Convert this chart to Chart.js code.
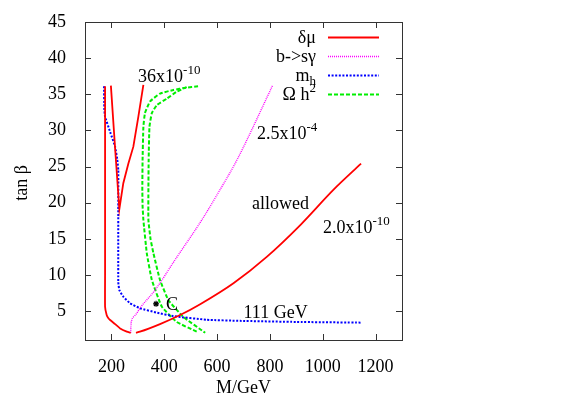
<!DOCTYPE html>
<html>
<head>
<meta charset="utf-8">
<script src="https://cdn.jsdelivr.net/npm/chart.js@4"></script>
<style>
  html, body { margin: 0; padding: 0; background: #fff; }
  #wrap { position: relative; width: 566px; height: 397px; }
</style>
</head>
<body>
<div id="wrap"><canvas id="chart" width="566" height="397"></canvas></div>
<script>
// ===========================
// DATA (M in GeV, tan beta)
// ===========================
const xTicks = [200, 400, 600, 800, 1000, 1200];
const yTicks = [5, 10, 15, 20, 25, 30, 35, 40, 45];

// delta mu = 2.0x10^-10 contour, left/bottom part
const muLowX = [176, 176, 176, 176, 176, 182, 188, 195, 214, 233, 258, 273];
const muLowY = [36.1, 30, 20, 10, 5.6, 4.46, 4.05, 3.77, 3.2, 2.6, 2.15, 2.0];
// delta mu = 2.0x10^-10 contour, rising part
const muHighX = [293, 308, 384, 460, 536, 662, 788, 915, 1041, 1145];
const muHighY = [2.0, 2.15, 3.2, 4.45, 5.95, 8.85, 12.5, 16.9, 21.8, 25.4];
// delta mu = 36x10^-10 contour (the V)
const mu36X = [198, 214, 230, 245, 264, 283, 302, 321];
const mu36Y = [36.2, 27.5, 19.1, 22.7, 25.4, 27.75, 31.9, 36.3];

// b -> s gamma = 2.5x10^-4
const bsgX = [273, 274, 277, 287, 296, 308, 365, 441, 542, 600, 675, 810];
const bsgY = [2.0, 3.0, 3.77, 4.3, 4.7, 5.4, 7.9, 12.1, 17.6, 21.1, 25.9, 36.2];

// m_h = 111 GeV
const mhX = [172, 173, 176, 195, 214, 222, 226, 226, 226, 230, 245, 270, 308, 370, 435, 561, 687, 900, 1148];
const mhY = [36.1, 33, 31.9, 29.8, 27.75, 26, 24.5, 19, 9, 7.9, 7.0, 6.1, 5.4, 4.8, 4.3, 3.8, 3.65, 3.5, 3.4];

// Omega h^2 band, outer and inner edge
const omOutX = [528, 480, 435, 384, 346, 327, 321, 318, 317, 318, 321, 334, 353, 391, 447, 523];
const omOutY = [36.1, 35.9, 35.6, 35.1, 34.0, 32.4, 30.5, 26, 22, 19.5, 17.6, 13.0, 9.3, 5.6, 3.5, 2.15];
const omInX = [485, 445, 410, 372, 353, 344, 341, 340, 340, 348, 359, 384, 416, 472, 555];
const omInY = [36.0, 35.3, 34.4, 33.5, 32.4, 30.5, 26, 22, 17.6, 15, 13.0, 9.3, 6.5, 4.2, 2.0];

// point C
const pointCX = [369];
const pointCY = [6.0];

// labels in the plot
const noteText = ['36x10', '2.5x10', 'allowed', '2.0x10', '111 GeV', 'C'];
const noteSup = ['-10', '-4', '', '-10', '', ''];
const noteX = [301, 751, 732, 1001, 700, 407];
const noteY = [36.75, 28.8, 19.1, 15.8, 4.0, 5.15];

// legend
const legendText = ['\u03B4\u03BC', 'b->s\u03B3', 'm', '\u03A9 h'];
const legendSub = ['', '', 'h', ''];
const legendSup = ['', '', '', '2'];

// ===========================
// HELPERS
// ===========================
const FONT = '"Liberation Serif", "Times New Roman", serif';

function pts(xs, ys) {
  return xs.map((x, i) => ({ x: x, y: ys[i] }));
}

const styles = {
  mu:  { color: '#ff0000', width: 1.8, dash: [] },
  bsg: { color: '#ff00ff', width: 1.4, dash: [1, 1] },
  mh:  { color: '#0000ff', width: 2, dash: [2, 1.6] },
  om:  { color: '#00ee00', width: 2, dash: [4, 2] }
};

function lineSet(data, st) {
  return {
    data: data,
    showLine: true,
    borderColor: st.color,
    borderWidth: st.width,
    borderDash: st.dash,
    pointRadius: 0,
    fill: false,
    tension: 0.12
  };
}

// text with optional sub/superscript
function drawRich(ctx, main, sub, sup, x, y, align) {
  ctx.font = '18px ' + FONT;
  const w1 = ctx.measureText(main).width;
  ctx.font = '13px ' + FONT;
  const w2 = ctx.measureText(sub || sup || '').width;
  let left = align === 'right' ? x - w1 - w2 : x;
  ctx.fillStyle = '#000';
  ctx.textAlign = 'left';
  ctx.textBaseline = 'alphabetic';
  ctx.font = '18px ' + FONT;
  ctx.fillText(main, left, y);
  ctx.font = '13px ' + FONT;
  if (sup) ctx.fillText(sup, left + w1, y - 8);
  if (sub) ctx.fillText(sub, left + w1, y + 4);
}

// ===========================
// FRAME / LEGEND / NOTES PLUGIN
// ===========================
const gnuFrame = {
  id: 'gnuFrame',
  afterDraw(chart) {
    const { ctx, chartArea: a, scales } = chart;
    const sx = scales.x, sy = scales.y;
    ctx.save();

    // border box
    ctx.strokeStyle = '#333';
    ctx.lineWidth = 1;
    ctx.setLineDash([]);
    ctx.strokeRect(a.left + 0.5, a.top + 0.5, a.right - a.left, a.bottom - a.top);

    // inward ticks on all four sides
    ctx.beginPath();
    xTicks.forEach(v => {
      const p = Math.round(sx.getPixelForValue(v)) + 0.5;
      ctx.moveTo(p, a.bottom); ctx.lineTo(p, a.bottom - 6);
      ctx.moveTo(p, a.top); ctx.lineTo(p, a.top + 6);
    });
    yTicks.forEach(v => {
      const p = Math.round(sy.getPixelForValue(v)) + 0.5;
      ctx.moveTo(a.left, p); ctx.lineTo(a.left + 6, p);
      ctx.moveTo(a.right, p); ctx.lineTo(a.right - 6, p);
    });
    ctx.stroke();

    // notes inside the plot
    noteText.forEach((t, i) => {
      drawRich(ctx, t, '', noteSup[i], sx.getPixelForValue(noteX[i]), sy.getPixelForValue(noteY[i]), 'left');
    });

    // legend (top right, text right-aligned before the sample)
    const legStyles = [styles.mu, styles.bsg, styles.mh, styles.om];
    legendText.forEach((t, i) => {
      const rowY = 37 + i * 19;
      drawRich(ctx, t, legendSub[i], legendSup[i], 316, rowY + 6, 'right');
      const st = legStyles[i];
      ctx.beginPath();
      ctx.strokeStyle = st.color;
      ctx.lineWidth = st.width;
      ctx.setLineDash(st.dash);
      ctx.moveTo(328, rowY + 0.5);
      ctx.lineTo(379, rowY + 0.5);
      ctx.stroke();
    });
    ctx.setLineDash([]);

    // axis titles
    ctx.fillStyle = '#000';
    ctx.font = '18px ' + FONT;
    ctx.textAlign = 'center';
    ctx.textBaseline = 'alphabetic';
    ctx.fillText('M/GeV', (a.left + a.right) / 2, 393);
    ctx.translate(27, 183);
    ctx.rotate(-Math.PI / 2);
    ctx.fillText('tan \u03B2', 0, 0);

    ctx.restore();
  }
};

// ===========================
// CHART
// ===========================
const tickFont = { family: FONT, size: 18 };

new Chart(document.getElementById('chart'), {
  type: 'scatter',
  data: {
    datasets: [
      lineSet(pts(muLowX, muLowY), styles.mu),
      Object.assign(lineSet(pts(muHighX, muHighY), styles.mu), { cubicInterpolationMode: 'monotone' }),
      Object.assign(lineSet(pts(mu36X, mu36Y), styles.mu), { tension: 0 }),
      Object.assign(lineSet(pts(bsgX, bsgY), styles.bsg), { cubicInterpolationMode: 'monotone' }),
      lineSet(pts(mhX, mhY), styles.mh),
      lineSet(pts(omOutX, omOutY), styles.om),
      lineSet(pts(omInX, omInY), styles.om),
      {
        data: pts(pointCX, pointCY),
        pointStyle: 'star',
        pointRadius: 3,
        borderColor: '#000',
        backgroundColor: '#000',
        borderWidth: 1.2,
        showLine: false
      }
    ]
  },
  options: {
    responsive: false,
    animation: false,
    devicePixelRatio: 1,
    layout: { padding: { left: 0, right: 164, top: 22, bottom: 0 } },
    plugins: {
      legend: { display: false },
      tooltip: { enabled: false }
    },
    scales: {
      x: {
        type: 'linear',
        min: 100,
        max: 1300,
        afterBuildTicks: s => { s.ticks = xTicks.map(v => ({ value: v })); },
        afterFit: s => { s.height = 57; },
        grid: { display: false },
        border: { display: false },
        ticks: { font: tickFont, color: '#000', padding: 8, maxRotation: 0, callback: v => String(v) }
      },
      y: {
        type: 'linear',
        min: 1,
        max: 45,
        afterBuildTicks: s => { s.ticks = yTicks.map(v => ({ value: v })); },
        afterFit: s => { s.width = 85; },
        grid: { display: false },
        border: { display: false },
        ticks: { font: tickFont, color: '#000', padding: 11, callback: v => String(v) }
      }
    }
  },
  plugins: [gnuFrame]
});
</script>
</body>
</html>
